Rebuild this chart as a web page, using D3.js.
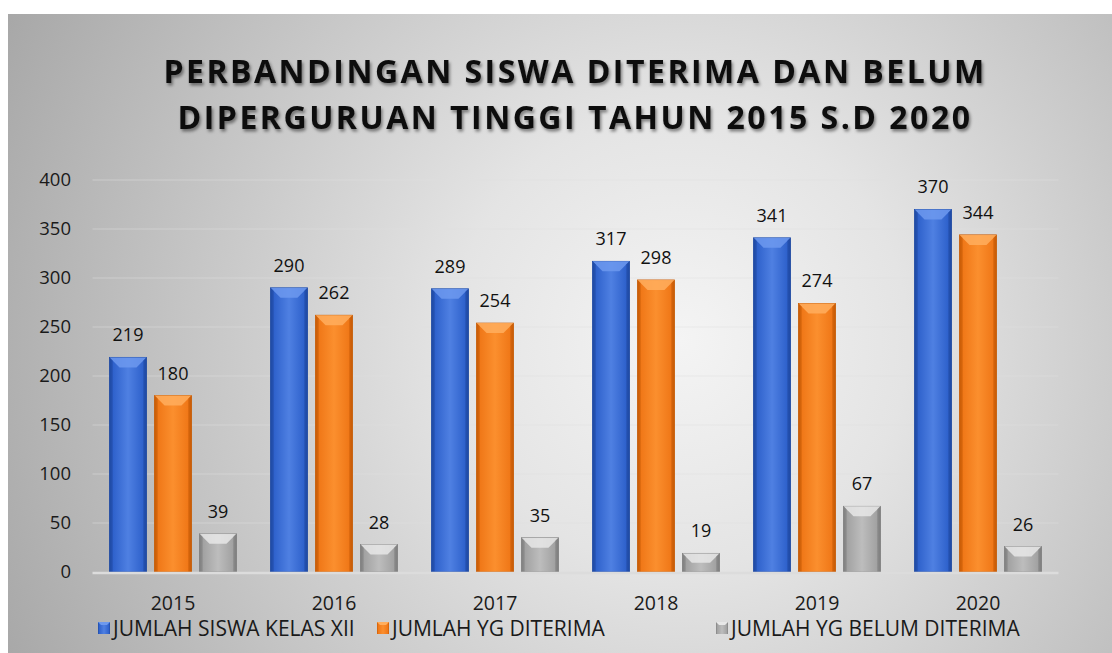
<!DOCTYPE html>
<html>
<head>
<meta charset="utf-8">
<script src="https://cdn.jsdelivr.net/npm/d3@7/dist/d3.min.js"></script>
<style>
  html, body { margin: 0; padding: 0; background: #ffffff; }
  #chart { width: 1112px; height: 653px; }
  text { font-family: "Open Sans", "Noto Sans", sans-serif; }
</style>
</head>
<body>
<div id="chart"></div>
<script>
'use strict'

// data
const years = ['2015', '2016', '2017', '2018', '2019', '2020']
const siswaKelasXII = [219, 290, 289, 317, 341, 370]
const diterima = [180, 262, 254, 298, 274, 344]
const belumDiterima = [39, 28, 35, 19, 67, 26]
const seriesNames = ['JUMLAH SISWA KELAS XII', 'JUMLAH YG DITERIMA', 'JUMLAH YG BELUM DITERIMA']
const yTicks = [0, 50, 100, 150, 200, 250, 300, 350, 400]
const titleLines = ['PERBANDINGAN SISWA DITERIMA DAN BELUM', 'DIPERGURUAN TINGGI TAHUN 2015 S.D 2020']

const seriesValues = [siswaKelasXII, diterima, belumDiterima]
const colors = [
    { base: '#2f62cc', light: '#4f80e2', dark: '#1f4aa3', top: '#6d99ee' },
    { base: '#f07818', light: '#fb8f2e', dark: '#c85c06', top: '#ffae5e' },
    { base: '#a2a2a2', light: '#bdbdbd', dark: '#7f7f7f', top: '#e8e8e8' }
]

const W = 1112, H = 653
const margin = { left: 92.5, right: 53.5, top: 180, bottom: 81 }

const svg = d3.select('#chart').append('svg')
    .attr('width', W).attr('height', H)

const defs = svg.append('defs')

// background gradient
const bg = defs.append('radialGradient')
    .attr('id', 'bg').attr('gradientUnits', 'userSpaceOnUse')
    .attr('cx', 680).attr('cy', 340).attr('r', 760)
bg.append('stop').attr('offset', '0%').attr('stop-color', '#f4f4f4')
bg.append('stop').attr('offset', '30%').attr('stop-color', '#e4e4e4')
bg.append('stop').attr('offset', '100%').attr('stop-color', '#a6a6a6')

colors.forEach((c, i) => {
    const g = defs.append('linearGradient').attr('id', 'bar' + i)
        .attr('x1', '0%').attr('x2', '100%').attr('y1', '0%').attr('y2', '0%')
    g.append('stop').attr('offset', '0%').attr('stop-color', c.dark)
    g.append('stop').attr('offset', '10%').attr('stop-color', c.base)
    g.append('stop').attr('offset', '50%').attr('stop-color', c.light)
    g.append('stop').attr('offset', '90%').attr('stop-color', c.base)
    g.append('stop').attr('offset', '100%').attr('stop-color', c.dark)
})

const shadow = defs.append('filter').attr('id', 'tshadow')
    .attr('x', '-10%').attr('y', '-30%').attr('width', '120%').attr('height', '160%')
shadow.append('feDropShadow').attr('dx', 1.5).attr('dy', 2.5).attr('stdDeviation', 1.8)
    .attr('flood-color', '#000').attr('flood-opacity', 0.45)

svg.append('rect')
    .attr('x', 8).attr('y', 14).attr('width', W - 8).attr('height', H - 14)
    .attr('fill', 'url(#bg)')

// title
const title = svg.append('text')
    .attr('text-anchor', 'middle')
    .attr('fill', '#111')
    .attr('font-size', '32px')
    .attr('font-weight', 700)
    .attr('letter-spacing', '2.5px')
    .attr('filter', 'url(#tshadow)')
titleLines.forEach((t, i) => {
    title.append('tspan').attr('x', 575).attr('y', 83 + i * 46).text(t)
})

////////////////////////////////////
//////////// scales ////////////
////////////////////////////////////
const x = d3.scaleBand()
    .domain(years)
    .range([margin.left, W - margin.right])

const inner = d3.scaleBand()
    .domain([0, 1, 2])
    .range([0, x.bandwidth()])
    .paddingInner(0.18)
    .paddingOuter(0.38)

const y = d3.scaleLinear()
    .domain([0, 400])
    .range([H - margin.bottom, 180])

// gridlines
svg.append('g')
    .selectAll('line')
    .data(yTicks.slice(1))
    .join('line')
    .attr('x1', margin.left).attr('x2', W - margin.right)
    .attr('y1', d => y(d)).attr('y2', d => y(d))
    .attr('stroke', '#e2e2e2').attr('stroke-opacity', 0.5).attr('stroke-width', 1)

// y axis labels
const yAxis = d3.axisLeft(y).tickValues(yTicks).tickSize(0).tickPadding(0)
svg.append('g')
    .attr('transform', `translate(71,0)`)
    .call(yAxis)
    .call(g => g.select('.domain').remove())
    .selectAll('text')
    .attr('fill', '#1a1a1a')
    .attr('font-size', '18.5px')
    .attr('font-family', '"Open Sans", sans-serif')

// bars
const groups = svg.append('g').selectAll('g')
    .data(years)
    .join('g')
    .attr('transform', d => `translate(${x(d)},0)`)

groups.each(function (yr, yi) {
    const g = d3.select(this)
    seriesValues.forEach((vals, si) => {
        const v = vals[yi]
        const bx = inner(si), bw = inner.bandwidth()
        const top = y(v), bottom = y(0)
        const bev = Math.min(10, (bottom - top) / 2)
        g.append('rect')
            .attr('x', bx).attr('y', top)
            .attr('width', bw).attr('height', bottom - top)
            .attr('fill', `url(#bar${si})`)
            .attr('stroke', colors[si].dark).attr('stroke-width', 0.8)
        // top bevel
        g.append('path')
            .attr('d', `M${bx},${top} L${bx + bw},${top} L${bx + bw - bev},${top + bev} L${bx + bev},${top + bev} Z`)
            .attr('fill', colors[si].top).attr('opacity', 0.85)
        // side bevels
        g.append('path')
            .attr('d', `M${bx},${top} L${bx + 3},${top + 3} L${bx + 3},${bottom} L${bx},${bottom} Z`)
            .attr('fill', colors[si].dark).attr('opacity', 0.5)
        g.append('path')
            .attr('d', `M${bx + bw},${top} L${bx + bw - 3},${top + 3} L${bx + bw - 3},${bottom} L${bx + bw},${bottom} Z`)
            .attr('fill', colors[si].dark).attr('opacity', 0.6)
        g.append('text')
            .attr('x', bx + bw / 2)
            .attr('y', top - 16)
            .attr('text-anchor', 'middle')
            .attr('font-size', '18px')
            .attr('fill', '#111')
            .text(v)
    })
})

// x axis line
svg.append('line')
    .attr('x1', margin.left).attr('x2', W - margin.right)
    .attr('y1', y(0) + 1).attr('y2', y(0) + 1)
    .attr('stroke', '#dcdcdc').attr('stroke-width', 2.5)

const xAxis = d3.axisBottom(x).tickSize(0).tickPadding(0)
svg.append('g')
    .attr('transform', `translate(0,${y(0) + 38})`)
    .call(xAxis)
    .call(g => g.select('.domain').remove())
    .selectAll('text')
    .attr('dy', 0)
    .attr('fill', '#1a1a1a')
    .attr('font-size', '19.5px')
    .attr('font-family', '"Open Sans", sans-serif')

// legend
const legendX = [98, 377, 716]
const legend = svg.append('g').selectAll('g')
    .data(seriesNames)
    .join('g')
    .attr('transform', (d, i) => `translate(${legendX[i]},622)`)
legend.append('rect')
    .attr('width', 12).attr('height', 12)
    .attr('fill', (d, i) => `url(#bar${i})`)
legend.append('path')
    .attr('d', 'M0,0 L12,0 L9,3 L3,3 Z')
    .attr('fill', (d, i) => colors[i].top)
legend.append('text')
    .attr('x', 15).attr('y', 13.5)
    .attr('font-size', '21px')
    .attr('fill', '#1a1a1a')
    .text(d => d)
</script>
</body>
</html>
